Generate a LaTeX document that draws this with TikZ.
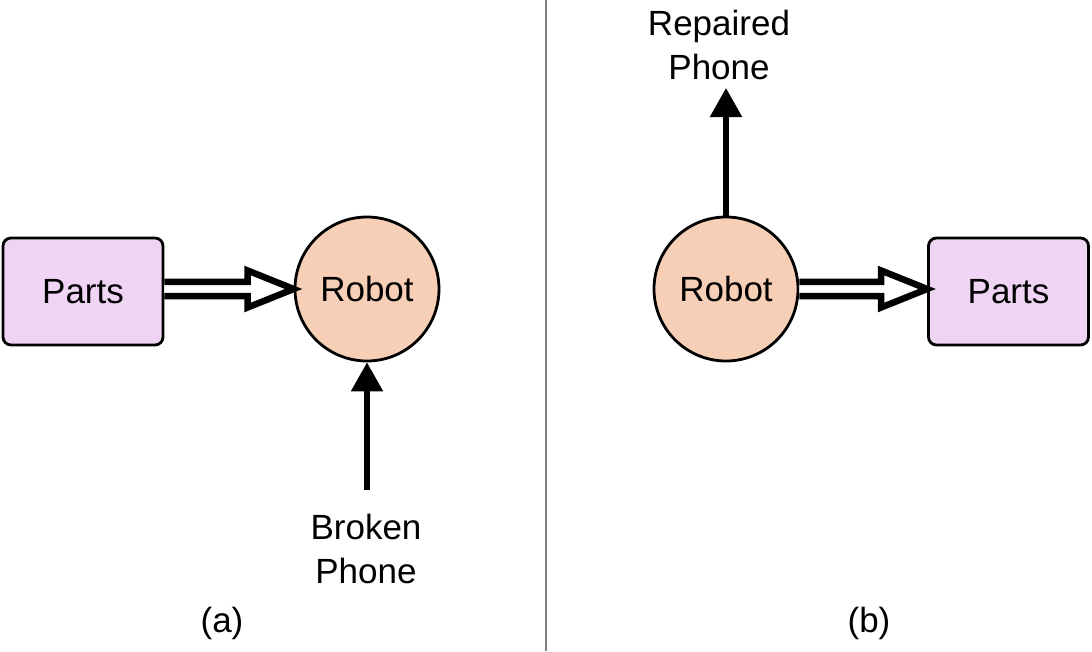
\documentclass[tikz,border=0pt]{standalone}
\usepackage{fontspec}
\setmainfont{Liberation Sans}
\usetikzlibrary{arrows.meta,calc}
\definecolor{partsfill}{HTML}{F0D4F4}
\definecolor{robotfill}{HTML}{F7CEB6}
\begin{document}
\begin{tikzpicture}[x=1pt,y=-1pt,
  partsbox/.style={draw=black,line width=2.8pt,fill=partsfill,rounded corners=8pt,minimum width=160pt,minimum height=107pt,inner sep=0pt,font=\fontsize{35}{40}\selectfont},
  robotnode/.style={draw=black,line width=2.8pt,fill=robotfill,circle,minimum size=144pt,inner sep=0pt,font=\fontsize{35}{40}\selectfont},
  lbl/.style={align=center,inner sep=0pt,font=\fontsize{35}{44}\selectfont},
  flow/.style={line width=5.5pt,-{Triangle[width=31pt,length=29pt]}},
  hollow/.style={line width=6.5pt,fill=white,line join=miter,miter limit=10}]
\useasboundingbox (0,0) rectangle (1092,651);
\fill[white] (0,0) rectangle (1092,651);
% divider
\draw[line width=1.8pt,color=black!50] (546,0) -- (546,651);
% (a)
\node[partsbox] (pa) at (83,291.5) {Parts};
\node[robotnode] (ra) at (367,289) {Robot};
\node[lbl] (ba) at (366,549) {Broken\\Phone};
\coordinate (bas) at (367,490);
\draw[flow] (bas) -- (ra.south);
\draw[hollow] ($(pa.east |- ra.west)+(0,-7.2)$) -- ($(ra.west)+(-46,-7.2)$) -- ($(ra.west)+(-46,-18.5)$) -- (ra.west) -- ($(ra.west)+(-46,18.5)$) -- ($(ra.west)+(-46,7.2)$) -- ($(pa.east |- ra.west)+(0,7.2)$);
\node[font=\fontsize{35}{40}\selectfont] (capa) at (222,623) {(a)};
% (b)
\node[robotnode] (rb) at (726,289) {Robot};
\node[partsbox] (pb) at (1008.5,291.5) {Parts};
\node[lbl] (rp) at (719,45) {Repaired\\Phone};
\coordinate (rpe) at (726,88);
\draw[flow] (rb.north) -- (rpe);
\draw[hollow] ($(rb.east)+(0,-7.2)$) -- ($(pb.west |- rb.east)+(-46,-7.2)$) -- ($(pb.west |- rb.east)+(-46,-18.5)$) -- (pb.west |- rb.east) -- ($(pb.west |- rb.east)+(-46,18.5)$) -- ($(pb.west |- rb.east)+(-46,7.2)$) -- ($(rb.east)+(0,7.2)$);
\node[font=\fontsize{35}{40}\selectfont] (capb) at (869,623) {(b)};
\end{tikzpicture}
\end{document}
